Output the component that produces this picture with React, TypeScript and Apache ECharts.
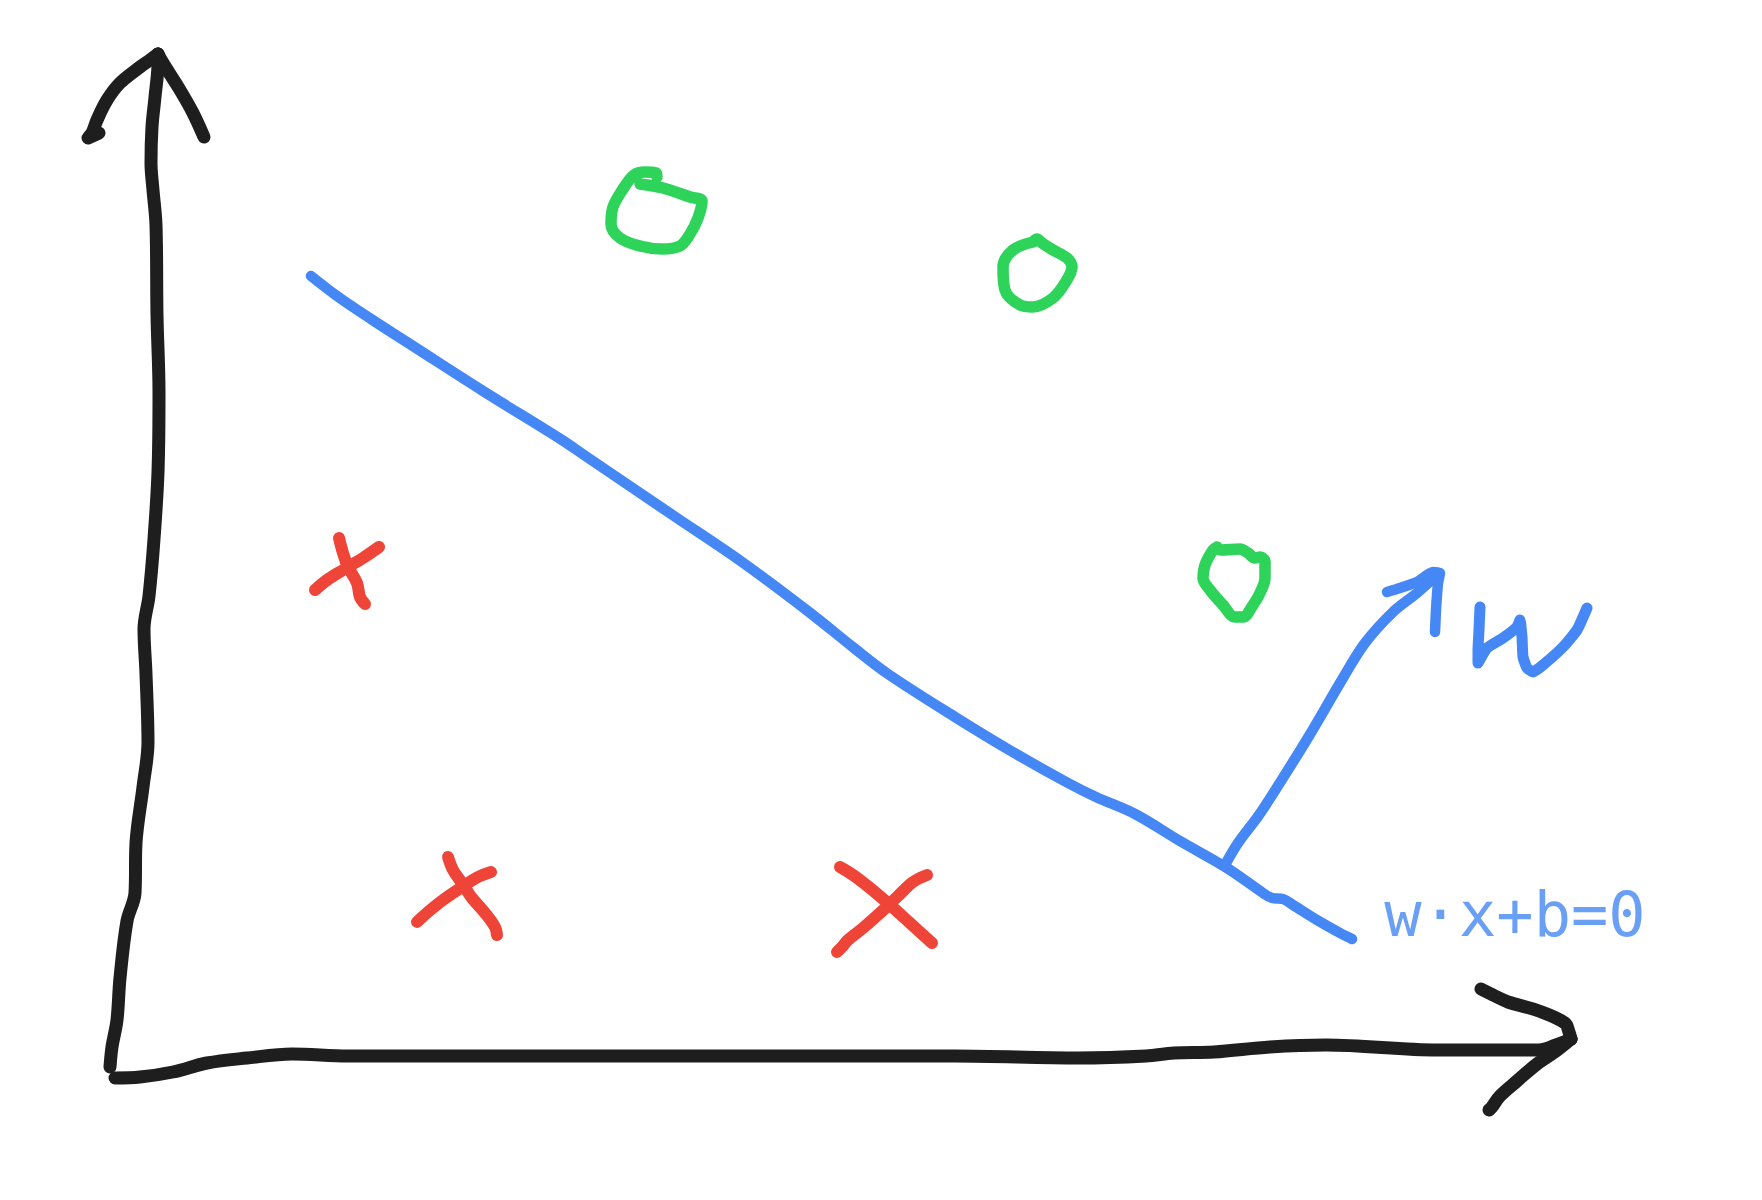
import React, { useEffect, useRef } from "react";
import * as echarts from "echarts";

// Canvas-space extents of the sketch
const X_MAX = 1762;
const Y_MAX = 1200;

// Colours
const BLACK = "#1E1E1E";
const BLUE = "#4587F4";
const RED = "#EF4438";
const GREEN = "#2ED35A";

// Axes (hand-drawn strokes)
const yAxisStroke = [[110,1067],[112,1047],[117,1020],[120,978],[127,921],[135,893],[136,843],[143,787],[148,742],[146,674],[144,629],[149,596],[154,539],[158,472],[159,393],[157,315],[156,225],[153,190],[151,163],[152,127],[155,97],[158,63],[158,54]];
const yArrowLeft = [[158,54],[150,60],[140,67],[120,83],[107,100],[97,120],[92,133],[88,138],[99,133]];
const yArrowRight = [[158,54],[163,63],[180,90],[193,113],[204,137]];
const xAxisStroke = [[115,1078],[140,1077],[173,1072],[207,1063],[247,1058],[292,1054],[348,1056],[562,1056],[955,1056],[1079,1058],[1146,1056],[1174,1053],[1214,1052],[1270,1047],[1326,1045],[1438,1050],[1539,1050],[1556,1045],[1571,1039]];
const xArrowUpper = [[1481,989],[1495,996],[1508,1002],[1539,1011],[1565,1023],[1569,1032],[1571,1039]];
const xArrowLower = [[1571,1039],[1556,1051],[1537,1064],[1517,1081],[1500,1096],[1492,1107],[1489,1110]];

// Decision boundary w·x+b=0
const boundary = [[311,276],[337,296],[371,319],[416,348],[483,391],[562,440],[584,455],[674,516],[742,562],[809,612],[854,648],[888,674],[955,717],[1011,751],[1068,783],[1096,797],[1135,814],[1180,841],[1227,868],[1263,893],[1272,898],[1283,899],[1293,905],[1317,920],[1340,933],[1352,939]];

// Normal vector w
const wShaft = [[1225,865],[1238,843],[1259,815],[1281,781],[1309,736],[1343,678],[1365,643],[1393,612],[1417,593],[1437,575]];
const wHead = [[1387,592],[1400,588],[1417,582],[1433,572],[1440,573],[1438,583],[1436,610],[1435,632]];
const wLetter = [[1480,607],[1479,630],[1478,650],[1478,663],[1487,648],[1503,638],[1517,627],[1520,620],[1522,637],[1523,657],[1527,668],[1533,672],[1543,665],[1563,647],[1577,630],[1587,608]];

// Positive class (circles)
const circleA = [[640,184],[663,188],[690,197],[702,201],[698,218],[690,234],[680,246],[662,249],[640,246],[620,238],[611,224],[613,207],[623,189],[634,175],[645,172],[656,173],[657,177]];
const circleB = [[1033,242],[1013,250],[1003,267],[1005,290],[1020,305],[1033,307],[1053,298],[1065,283],[1072,267],[1067,258],[1053,250],[1042,243],[1037,239],[1033,242]];
const circleC = [[1217,547],[1221,550],[1240,549],[1248,553],[1255,558],[1260,557],[1265,562],[1265,578],[1260,593],[1253,605],[1243,617],[1235,617],[1223,605],[1210,590],[1203,578],[1205,565],[1213,550],[1217,547]];

// Negative class (crosses)
const cross1A = [[339,538],[343,553],[348,567],[357,583],[360,597],[365,604]];
const cross1B = [[379,547],[363,558],[343,570],[327,580],[315,590]];
const cross2A = [[448,857],[453,870],[462,883],[472,898],[485,913],[495,927],[497,935]];
const cross2B = [[491,872],[478,877],[462,887],[443,900],[428,912],[417,922]];
const cross3A = [[840,867],[853,875],[870,888],[890,905],[910,923],[932,943]];
const cross3B = [[927,875],[913,882],[897,897],[880,913],[863,928],[848,940],[842,947],[837,952]];

// Equation label
const labelText = "w·x+b=0";
const labelAnchor = [[1515, 914]];

function stroke(data: number[][], color: string, width: number, smooth: number | boolean = 0.35) {
  return {
    type: "line",
    data,
    showSymbol: false,
    symbol: "none",
    smooth,
    silent: true,
    animation: false,
    lineStyle: { color, width, cap: "round", join: "round" },
  };
}

export default function App() {
  const ref = useRef<HTMLDivElement>(null);
  useEffect(() => {
    if (!ref.current) return;
    const chart = echarts.init(ref.current, undefined, { renderer: "svg" });
    chart.setOption({
      animation: false,
      backgroundColor: "#ffffff",
      grid: { left: 0, right: 0, top: 0, bottom: 0 },
      xAxis: { type: "value", min: 0, max: X_MAX, show: false },
      yAxis: { type: "value", min: 0, max: Y_MAX, inverse: true, show: false },
      series: [
        stroke(yAxisStroke, BLACK, 13),
        stroke(yArrowLeft, BLACK, 13),
        stroke(yArrowRight, BLACK, 13),
        stroke(xAxisStroke, BLACK, 13),
        stroke(xArrowUpper, BLACK, 13),
        stroke(xArrowLower, BLACK, 13),
        stroke(boundary, BLUE, 10.5),
        stroke(wShaft, BLUE, 10.5),
        stroke(wHead, BLUE, 10.5, 0.2),
        stroke(wLetter, BLUE, 11, 0.15),
        stroke(circleA, GREEN, 11.5),
        stroke(circleB, GREEN, 11.5),
        stroke(circleC, GREEN, 11.5),
        stroke(cross1A, RED, 12),
        stroke(cross1B, RED, 12),
        stroke(cross2A, RED, 12),
        stroke(cross2B, RED, 12),
        stroke(cross3A, RED, 12),
        stroke(cross3B, RED, 12),
        {
          type: "scatter",
          data: labelAnchor,
          symbolSize: 0,
          silent: true,
          label: {
            show: true,
            position: "inside",
            formatter: labelText,
            fontFamily: "DejaVu Sans Mono",
            fontSize: 62,
            color: BLUE,
          },
        },
      ],
    });
    return () => chart.dispose();
  }, []);
  return (
    <div
      ref={ref}
      style={{ position: "absolute", left: 0, top: 0, width: X_MAX, height: Y_MAX }}
    />
  );
}
